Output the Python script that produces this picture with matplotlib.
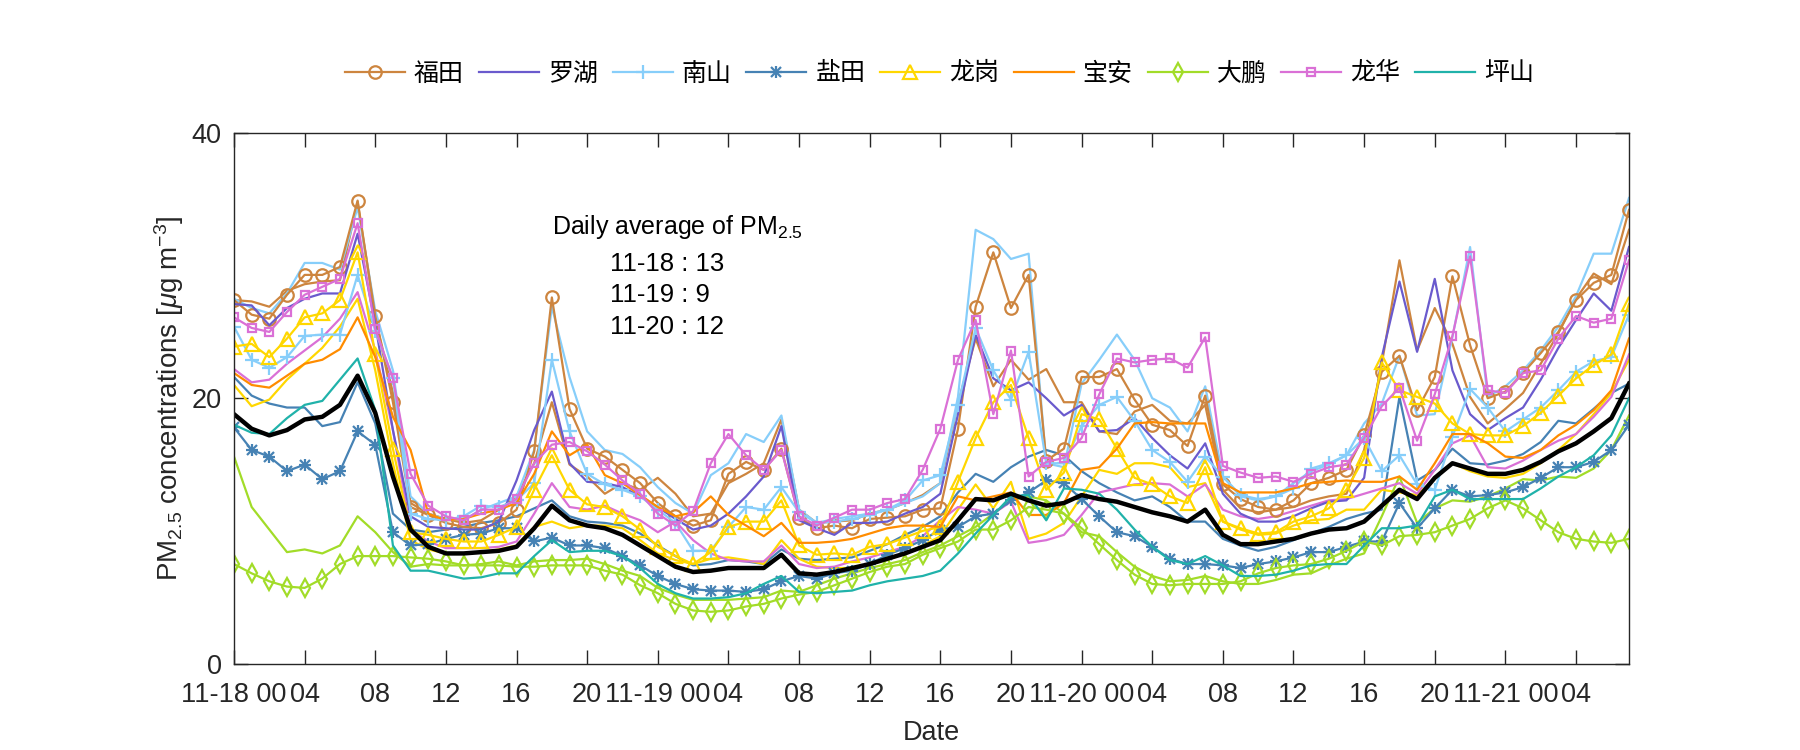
import matplotlib
matplotlib.use('Agg')
import matplotlib.pyplot as plt
import numpy as np

# PM2.5 horario por distrito, 11-18 00h a 11-21 07h
horas = np.arange(80)

tick_pos = list(range(0, 80, 4))
tick_lab = ['11-18 00', '04', '08', '12', '16', '20',
            '11-19 00', '04', '08', '12', '16', '20',
            '11-20 00', '04', '08', '12', '16', '20',
            '11-21 00', '04']

nombres = ['福田', '罗湖', '南山', '盐田', '龙岗', '宝安', '大鹏', '龙华', '坪山']

futian = [27.4, 26.3, 26.0, 27.8, 29.3, 29.3, 29.9, 34.9, 26.2, 19.7, 11.8, 11.2, 10.6, 10.3, 10.2, 10.6, 11.6,
          16.0, 27.6, 19.2, 16.2, 15.6, 14.6, 13.6, 12.1, 11.1, 10.4, 10.8, 14.3, 15.2, 14.6, 16.2, 11.0,
          10.2, 10.4, 10.2, 10.9, 11.0, 11.1, 11.6, 11.7, 17.7, 26.9, 31.0, 26.8, 29.3, 15.3, 16.2, 21.6,
          21.6, 22.2, 19.9, 18.0, 17.6, 16.4, 20.2, 13.5, 12.4, 11.8, 11.6, 12.3, 13.6, 14.0, 14.6, 17.2,
          22.0, 23.2, 19.1, 21.6, 29.2, 24.0, 20.0, 20.5, 21.9, 23.4, 25.0, 27.4, 28.7, 29.3, 34.2]
luohu = [27.1, 27.0, 25.5, 26.8, 27.5, 27.9, 27.9, 32.4, 25.6, 17.6, 11.1, 10.3, 10.2, 10.1, 10.1, 10.7, 13.8,
         17.6, 20.5, 15.1, 13.7, 13.6, 13.3, 12.6, 11.8, 10.9, 10.1, 10.4, 11.3, 12.6, 14.1, 17.9, 10.8,
         10.2, 9.7, 10.6, 10.6, 10.7, 11.3, 11.8, 12.8, 18.8, 24.8, 21.5, 20.6, 21.2, 20.0, 18.7, 19.5,
         17.5, 17.6, 18.5, 17.0, 15.7, 14.7, 16.6, 12.8, 11.3, 10.7, 10.7, 11.1, 11.7, 12.2, 12.3, 14.0,
         23.1, 28.8, 23.5, 29.0, 22.1, 18.8, 17.6, 18.5, 19.3, 21.4, 23.8, 25.9, 27.9, 26.6, 31.4]
nanshan = [25.4, 22.9, 22.3, 23.1, 24.7, 24.8, 24.8, 29.3, 25.1, 21.5, 11.3, 10.9, 10.8, 11.1, 11.9, 11.8, 12.3,
           13.6, 22.9, 17.5, 14.3, 13.5, 13.1, 12.6, 11.6, 10.6, 8.5, 8.5, 10.3, 11.8, 11.6, 13.3, 11.4,
           10.6, 10.7, 10.9, 11.2, 11.6, 12.3, 13.8, 14.2, 19.5, 25.3, 22.1, 19.9, 23.5, 15.1, 15.1, 17.9,
           19.5, 20.1, 18.3, 16.1, 15.2, 13.7, 15.6, 14.1, 12.7, 12.4, 12.6, 13.2, 14.7, 15.1, 15.7, 17.0,
           14.5, 15.7, 13.5, 13.1, 17.1, 20.7, 19.3, 17.5, 18.4, 19.3, 20.6, 22.0, 22.8, 23.1, 26.3]
yantian = [17.8, 16.1, 15.6, 14.5, 15.0, 13.9, 14.5, 17.5, 16.5, 9.9, 8.9, 9.0, 9.4, 9.7, 9.8, 10.2, 10.2,
           9.2, 9.5, 8.9, 8.9, 8.7, 8.1, 7.4, 6.6, 6.0, 5.6, 5.5, 5.5, 5.4, 5.6, 6.2, 6.6,
           6.4, 6.8, 7.0, 7.5, 8.2, 8.7, 9.3, 10.1, 10.3, 11.1, 11.3, 12.3, 12.9, 13.8, 13.6, 12.4,
           11.1, 9.9, 9.6, 8.8, 7.9, 7.5, 7.5, 7.4, 7.2, 7.5, 7.7, 8.0, 8.4, 8.4, 8.8, 9.2,
           9.2, 12.1, 10.2, 11.7, 13.1, 12.6, 12.7, 12.9, 13.3, 14.0, 14.8, 14.8, 15.2, 16.1, 18.0]
longgang = [23.9, 24.1, 23.1, 24.5, 26.1, 26.4, 27.4, 31.0, 23.3, 16.2, 9.9, 9.7, 9.4, 9.2, 9.2, 9.7, 10.3,
            13.1, 15.7, 13.1, 12.0, 11.8, 11.1, 10.1, 8.8, 8.1, 7.5, 8.4, 10.3, 10.7, 10.7, 12.3, 8.9,
            8.2, 8.3, 8.2, 8.8, 9.0, 9.5, 10.0, 10.3, 13.7, 17.0, 19.7, 21.0, 17.0, 13.1, 14.4, 18.8,
            18.4, 16.2, 14.0, 13.5, 12.6, 12.1, 14.8, 10.7, 10.2, 9.8, 9.9, 10.7, 11.1, 11.7, 13.1, 15.5,
            22.7, 20.6, 20.1, 19.6, 18.1, 17.3, 17.2, 17.2, 17.9, 18.9, 20.2, 21.5, 22.5, 23.3, 27.1]
baoan = [21.9, 21.0, 20.8, 21.7, 22.6, 22.9, 23.7, 26.1, 23.1, 18.6, 16.1, 11.3, 10.8, 10.9, 11.3, 11.6, 12.1,
         14.3, 17.5, 15.7, 16.5, 14.2, 13.6, 12.7, 11.8, 11.1, 11.4, 12.6, 11.2, 10.4, 9.6, 10.6, 9.1,
         9.1, 9.2, 9.4, 9.8, 10.2, 10.4, 10.4, 10.3, 12.6, 12.3, 12.6, 12.9, 11.2, 11.2, 12.1, 14.6,
         14.8, 16.2, 18.1, 18.2, 18.1, 18.1, 18.1, 13.6, 12.9, 12.9, 12.9, 13.2, 13.6, 13.7, 13.8, 13.7,
         13.7, 14.1, 13.1, 15.1, 17.3, 17.3, 16.6, 15.6, 15.5, 16.1, 17.2, 18.0, 19.1, 20.6, 24.5]
dapeng = [7.5, 6.8, 6.2, 5.8, 5.7, 6.4, 7.5, 8.1, 8.1, 8.1, 8.0, 7.9, 7.7, 7.4, 7.4, 7.4, 7.3,
          7.3, 7.4, 7.4, 7.4, 7.0, 6.7, 5.9, 5.3, 4.5, 4.0, 3.9, 4.0, 4.3, 4.5, 4.9, 5.2,
          5.4, 5.9, 6.4, 6.9, 7.3, 7.5, 8.2, 8.7, 9.2, 10.1, 10.1, 10.8, 11.8, 11.6, 11.3, 10.2,
          9.0, 7.8, 6.7, 6.0, 5.9, 6.0, 6.0, 6.0, 6.2, 6.8, 7.2, 7.4, 7.5, 7.9, 8.5, 9.2,
          8.9, 9.6, 9.7, 9.9, 10.4, 10.9, 11.7, 12.3, 11.7, 10.8, 9.9, 9.4, 9.2, 9.1, 9.4]
longhua = [26.1, 25.3, 25.0, 26.5, 27.8, 28.4, 29.0, 33.2, 25.2, 21.5, 14.3, 11.9, 11.1, 10.8, 11.6, 11.6, 12.4,
           15.1, 16.5, 16.7, 16.0, 15.0, 13.8, 12.8, 11.3, 10.4, 11.5, 15.1, 17.3, 15.7, 14.6, 16.1, 11.1,
           10.4, 11.0, 11.6, 11.6, 12.1, 12.4, 14.6, 17.7, 22.9, 25.9, 18.8, 23.6, 14.1, 15.2, 15.5, 17.0,
           20.3, 23.0, 22.7, 22.9, 23.0, 22.3, 24.6, 14.9, 14.4, 14.0, 14.1, 13.7, 14.3, 14.8, 15.0, 17.0,
           19.4, 20.8, 16.8, 20.3, 24.7, 30.7, 20.6, 20.4, 21.9, 22.1, 24.5, 26.2, 25.7, 26.0, 30.4]
pingshan = [18.0, 17.4, 17.3, 18.5, 19.5, 19.8, 21.4, 23.0, 19.1, 8.9, 7.0, 7.0, 6.7, 6.4, 6.5, 6.8, 6.8,
            8.1, 9.3, 8.4, 8.5, 8.5, 8.1, 7.2, 6.0, 5.3, 4.9, 4.9, 5.0, 5.3, 6.0, 6.6, 5.4,
            5.3, 5.4, 5.5, 5.9, 6.2, 6.4, 6.6, 7.0, 8.3, 9.8, 11.2, 12.6, 12.7, 10.8, 13.2, 13.1,
            12.8, 11.6, 10.1, 8.8, 7.8, 7.5, 8.1, 7.4, 6.6, 6.6, 6.7, 7.0, 7.4, 7.5, 7.5, 8.9,
            10.2, 10.2, 10.4, 12.6, 13.1, 12.4, 12.4, 12.4, 12.4, 13.2, 14.1, 14.8, 15.7, 17.2, 20.0]

# segunda serie (sin marcadores) de algunos distritos
futian_b = [27.4, 27.3, 26.9, 28.1, 28.6, 28.8, 28.9, 34.8, 26.1, 20.4, 12.1, 11.3, 10.9, 10.6, 10.8, 11.6, 12.6,
            15.1, 19.7, 15.0, 14.1, 12.8, 13.6, 13.1, 14.0, 12.8, 11.1, 11.3, 13.6, 14.3, 15.1, 18.4, 11.6,
            10.6, 10.7, 10.8, 11.3, 11.6, 12.1, 12.7, 13.6, 19.6, 24.5, 20.9, 22.9, 21.4, 22.2, 19.7, 19.7,
            17.5, 17.3, 19.0, 19.5, 18.3, 18.1, 19.5, 13.1, 11.7, 11.4, 11.6, 11.8, 12.3, 12.6, 12.8, 16.1,
            22.6, 30.4, 23.6, 26.8, 24.1, 20.1, 18.1, 19.2, 20.4, 22.6, 24.9, 27.5, 29.4, 28.6, 32.7]
nanshan_b = [27.5, 26.8, 26.4, 27.9, 30.2, 30.2, 29.7, 34.4, 26.6, 22.1, 12.6, 11.3, 10.9, 10.8, 11.6, 12.1, 12.6,
             16.1, 26.9, 21.6, 17.5, 16.1, 15.8, 14.8, 13.3, 12.1, 11.3, 14.2, 15.1, 17.3, 16.7, 18.7, 11.6,
             10.6, 10.9, 11.1, 11.3, 11.6, 12.1, 12.6, 13.6, 20.1, 32.7, 32.0, 30.5, 30.9, 15.1, 14.8, 21.1,
             22.9, 24.8, 22.9, 20.0, 19.3, 17.5, 20.9, 14.1, 12.6, 12.3, 12.6, 13.6, 14.5, 15.0, 15.7, 18.1,
             19.6, 23.2, 18.7, 18.8, 24.6, 31.4, 20.1, 20.9, 22.1, 23.6, 25.4, 27.7, 30.9, 30.9, 35.1]
yantian_b = [21.6, 20.2, 19.6, 19.3, 19.3, 17.9, 18.2, 21.2, 18.1, 11.3, 10.1, 9.9, 10.1, 10.3, 10.6, 10.8, 11.1,
             11.7, 12.3, 11.1, 10.7, 10.6, 10.4, 9.8, 8.9, 8.1, 7.4, 7.5, 7.8, 7.7, 7.5, 8.6, 7.9,
             7.8, 7.9, 8.0, 8.5, 9.0, 9.7, 10.3, 11.1, 12.9, 14.3, 13.7, 14.8, 15.6, 16.1, 15.7, 14.5,
             13.6, 12.9, 12.3, 12.6, 11.8, 10.7, 10.7, 9.4, 8.9, 8.5, 8.8, 9.3, 9.8, 10.3, 10.9, 11.3,
             11.6, 20.1, 13.8, 14.6, 16.2, 15.1, 15.0, 15.3, 15.8, 16.7, 18.3, 18.1, 19.2, 20.4, 21.1]
longgang_b = [21.0, 19.4, 19.9, 21.4, 22.6, 23.8, 25.4, 27.5, 22.1, 15.1, 9.3, 8.6, 8.3, 8.3, 8.4, 8.6, 8.9,
              10.3, 10.7, 10.2, 10.4, 10.4, 10.2, 9.3, 8.3, 7.8, 7.5, 7.9, 8.0, 7.8, 7.5, 9.3, 7.9,
              7.3, 7.2, 7.2, 7.5, 7.8, 8.3, 8.9, 9.6, 11.6, 13.5, 11.7, 13.7, 9.4, 9.8, 10.6, 12.6,
              14.6, 14.3, 15.1, 15.1, 14.8, 13.3, 13.6, 10.7, 10.1, 9.7, 9.8, 10.4, 10.8, 10.9, 11.6, 11.6,
              13.1, 12.9, 12.7, 14.0, 15.1, 14.5, 14.1, 14.0, 14.3, 15.1, 16.1, 17.3, 18.8, 20.4, 22.9]
dapeng_b = [15.6, 11.8, 10.1, 8.4, 8.6, 8.3, 8.9, 11.1, 9.9, 8.4, 7.3, 7.5, 7.4, 7.4, 7.5, 7.7, 7.4,
            7.7, 7.8, 7.8, 7.9, 7.5, 7.0, 6.6, 5.7, 5.2, 4.8, 4.8, 4.8, 4.9, 5.0, 5.5, 5.4,
            5.9, 6.4, 6.8, 7.2, 7.5, 7.8, 8.4, 8.9, 9.6, 10.3, 11.3, 12.3, 12.6, 12.3, 11.3, 9.9,
            9.6, 8.4, 7.3, 6.6, 6.2, 6.3, 6.6, 6.2, 6.0, 6.0, 6.3, 6.7, 6.8, 7.4, 7.9, 8.3,
            11.1, 14.1, 10.6, 11.7, 12.3, 12.2, 12.6, 13.2, 13.9, 13.8, 14.1, 14.0, 14.7, 16.1, 18.7]
longhua_b = [22.2, 21.2, 21.4, 22.6, 23.6, 24.6, 26.0, 28.0, 23.6, 17.6, 10.1, 9.2, 8.7, 8.7, 8.7, 8.8, 9.2,
             11.3, 13.6, 11.8, 11.6, 11.9, 11.3, 10.8, 9.9, 10.7, 9.3, 8.3, 7.8, 7.7, 7.7, 8.9, 7.5,
             7.2, 7.3, 7.7, 8.0, 8.4, 8.8, 9.6, 10.8, 11.8, 11.6, 11.3, 12.2, 9.1, 9.3, 9.7, 11.2,
             12.9, 13.2, 13.5, 13.6, 13.5, 12.6, 13.5, 11.6, 11.1, 10.9, 11.1, 11.5, 11.9, 12.3, 12.4, 12.8,
             13.2, 13.6, 12.8, 14.6, 16.6, 17.2, 14.8, 14.7, 15.3, 16.1, 16.8, 17.3, 18.6, 20.1, 23.3]

# promedio de todos los distritos
promedio = [18.8, 17.7, 17.2, 17.6, 18.4, 18.6, 19.5, 21.7, 18.9, 14.1, 10.1, 8.8, 8.3, 8.3, 8.4, 8.5, 8.8,
            10.2, 11.9, 10.8, 10.4, 10.2, 9.7, 8.9, 8.1, 7.3, 6.9, 7.0, 7.2, 7.2, 7.2, 8.2, 6.8,
            6.7, 6.9, 7.2, 7.5, 7.9, 8.3, 8.8, 9.3, 10.8, 12.4, 12.3, 12.8, 12.3, 11.9, 12.1, 12.7,
            12.4, 12.2, 11.8, 11.4, 11.1, 10.7, 11.6, 9.7, 9.0, 9.0, 9.2, 9.4, 9.8, 10.1, 10.2, 10.7,
            11.9, 13.1, 12.4, 14.0, 15.1, 14.7, 14.3, 14.3, 14.6, 15.2, 16.0, 16.6, 17.5, 18.5, 21.1]

dias = ['11-18', '11-19', '11-20']
media_diaria = [13, 9, 12]

plt.rcParams['font.family'] = ['Liberation Sans', 'Noto Sans CJK SC', 'DejaVu Sans']
plt.rcParams['mathtext.fontset'] = 'custom'
plt.rcParams['mathtext.rm'] = 'Liberation Sans'
plt.rcParams['mathtext.it'] = 'Liberation Sans:italic'
plt.rcParams['mathtext.default'] = 'regular'

colores = ['#CD853F', '#6A5ACD', '#87CEFA', '#4682B4', '#FFD700',
           '#FF8C00', '#A2DC28', '#DA70D6', '#20B2AA']
marcas = ['o', 'None', '+', '+', '^', 'None', 'd', 's', 'None']
tamanos = [9, 0, 10, 9, 10, 0, 9, 6, 0]

series = [futian, luohu, nanshan, yantian, longgang, baoan, dapeng, longhua, pingshan]
series_b = {0: futian_b, 2: nanshan_b, 3: yantian_b, 4: longgang_b, 6: dapeng_b, 7: longhua_b}

fig = plt.figure(figsize=(18, 7.5), dpi=100)
ax = fig.add_axes([0.130, 0.1153, 0.775, 0.7074])

for i, y in series_b.items():
    ax.plot(horas, y, color=colores[i], lw=1.6)

handles = []
for i, y in enumerate(series):
    h, = ax.plot(horas, y, color=colores[i], lw=1.6, marker=marcas[i],
                 ms=tamanos[i], mfc='none', mew=1.6)
    if i == 3:
        # asterisco estilo matlab: + y x superpuestos
        h2, = ax.plot(horas, y, color=colores[i], ls='none', marker='x',
                      ms=7, mew=1.6)
        handles.append((h, h2))
    else:
        handles.append(h)

ax.plot(horas, promedio, color='black', lw=3.2)

ax.set_xlim(0, 79)
ax.set_ylim(0, 40)
ax.set_xticks(tick_pos, tick_lab)
ax.set_yticks([0, 20, 40])
ax.tick_params(direction='in', length=10, width=1, top=True, right=True,
               labelsize=19.5, colors='#262626')
ax.tick_params(axis='x', pad=13)
ax.tick_params(axis='y', pad=9)
for s in ax.spines.values():
    s.set_color('#262626')
    s.set_linewidth(1)

ax.set_xlabel('Date', fontsize=19.5, color='#262626', labelpad=9)
ax.set_ylabel('PM$_{2.5}$ concentrations [$\\mathit{\\mu}$g m$^{-3}$]', fontsize=20,
              color='#262626', labelpad=4)

ax.text(18, 32.9, 'Daily average of PM$_{2.5}$', fontsize=18, va='center')
for k in range(len(dias)):
    ax.text(21.3, 30.1 - 2.35 * k, dias[k] + ' : ' + str(media_diaria[k]),
            fontsize=18.5, va='center')

fig.legend(handles=handles, labels=nombres, loc='center', bbox_to_anchor=(0.522, 0.902),
           ncol=9, frameon=False, fontsize=18, handlelength=2.4,
           columnspacing=0.6, handletextpad=0.35)

fig.savefig('out.png', dpi=100)
